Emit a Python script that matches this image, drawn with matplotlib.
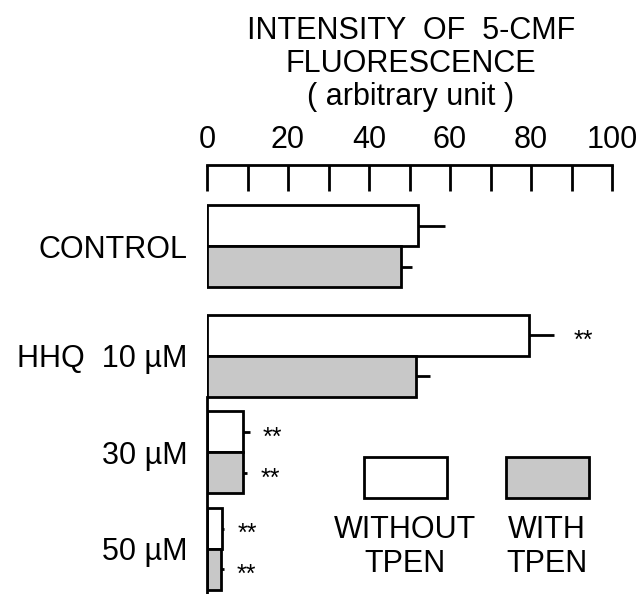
import matplotlib.pyplot as plt
from matplotlib.patches import Rectangle

plt.rcParams['font.family'] = ['Liberation Sans', 'DejaVu Sans']

groups = ['CONTROL', 'HHQ  10 \u00b5M', '30 \u00b5M', '50 \u00b5M']
without_tpen = [52, 79.5, 9, 3.6]
without_err = [6.8, 6.2, 1.5, 0.7]
with_tpen = [48, 51.5, 9, 3.4]
with_err = [2.5, 3.6, 0.9, 0.7]
# significance marks: (group index, series, text)
stars = [(1, 'without', '**'), (2, 'without', '**'), (2, 'with', '**'),
         (3, 'without', '**'), (3, 'with', '**')]

# layout: group centres in bar-height units
pos = [0, 2.68, 5.04, 7.4]

fig = plt.figure(figsize=(6.42, 5.94), dpi=100)
ax = fig.add_axes([207 / 642, 0, 405 / 642, 1 - 165 / 594])

y_white = [p - 0.5 for p in pos]
y_grey = [p + 0.5 for p in pos]

ax.barh(y_white, without_tpen, height=1, color='white', edgecolor='black', linewidth=2)
ax.barh(y_grey, with_tpen, height=1, color='#c8c8c8', edgecolor='black', linewidth=2)

ax.errorbar(without_tpen, y_white, xerr=[[0] * 4, without_err], fmt='none',
            ecolor='black', elinewidth=2, capsize=0)
ax.errorbar(with_tpen, y_grey, xerr=[[0] * 4, with_err], fmt='none',
            ecolor='black', elinewidth=2, capsize=0)

for i, series, txt in stars:
    if series == 'without':
        x = without_tpen[i] + without_err[i] + 3.3
        y = y_white[i]
    else:
        x = with_tpen[i] + with_err[i] + 3.3
        y = y_grey[i]
    if i == 1:
        x += 1.6
    ax.text(x, y + 0.14, txt, ha='left', va='center', fontsize=18)

ax.set_xlim(0, 100)
ax.set_ylim(8.5, -1.98)
ax.xaxis.tick_top()
ax.set_xticks(range(0, 101, 20))
ax.set_xticks(range(0, 101, 10), minor=True)
ax.tick_params(axis='x', which='both', direction='in', length=19, width=2, pad=7,
               labelsize=22)
ax.tick_params(axis='x', which='minor', length=19, width=2)
ax.set_yticks(pos)
ax.set_yticklabels(groups, fontsize=22)
ax.tick_params(axis='y', length=0, pad=14)

for s in ['right', 'bottom']:
    ax.spines[s].set_visible(False)
ax.spines['top'].set_linewidth(2)
ax.spines['left'].set_linewidth(2)
ax.spines['left'].set_bounds(pos[1] + 1.0, 8.5)

fig.text(411 / 642, 1 - 16 / 594, 'INTENSITY  OF  5-CMF\nFLUORESCENCE\n( arbitrary unit )',
         ha='center', va='top', fontsize=22, linespacing=1.13)

# legend drawn as boxes with labels underneath
for x0, fc, lab in [(364, 'white', 'WITHOUT\nTPEN'), (506, '#c8c8c8', 'WITH\nTPEN')]:
    fig.patches.append(Rectangle((x0 / 642, 1 - 498 / 594), 83 / 642, 41 / 594,
                                 transform=fig.transFigure, facecolor=fc,
                                 edgecolor='black', linewidth=2))
    fig.text((x0 + 41) / 642, 1 - 515 / 594, lab, ha='center', va='top',
             fontsize=22, linespacing=1.18)

fig.savefig('out.png', dpi=100)
